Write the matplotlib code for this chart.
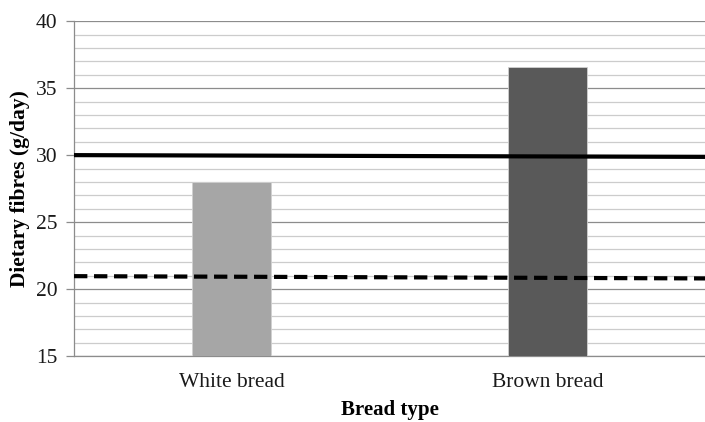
import matplotlib
matplotlib.use("Agg")
import matplotlib.pyplot as plt
from matplotlib.ticker import MultipleLocator

categories = ["White bread", "Brown bread"]
fibre_values = [28.0, 36.6]
bar_colors = ["#a6a6a6", "#595959"]
# reference lines: value at left edge, value at right edge
solid_line = [30.0, 29.87]
dashed_line = [20.97, 20.8]

plt.rcParams['font.family'] = ['Liberation Serif', 'DejaVu Serif']

fig = plt.figure(figsize=(7.05, 4.22), dpi=100)
ax = fig.add_axes([0.105, 0.156, 0.895, 0.794])

x = list(range(len(categories)))
ax.bar(x, fibre_values, width=0.25, color=bar_colors, edgecolor="#d0d0d0",
       linewidth=0.6, zorder=3)

xlim = (-0.5, len(categories) - 0.5)
ax.plot(xlim, solid_line, color="black", linewidth=3.0, solid_capstyle="butt", zorder=4)
ax.plot(xlim, dashed_line, color="black", linewidth=3.0, dashes=(3.2, 1.6), zorder=4)

ax.set_xlim(*xlim)
ax.set_ylim(15, 40)
ax.yaxis.set_major_locator(MultipleLocator(5))
ax.yaxis.set_minor_locator(MultipleLocator(1))
ax.grid(which="major", axis="y", color="#8c8c8c", linewidth=0.9, zorder=0)
ax.grid(which="minor", axis="y", color="#cccccc", linewidth=0.9, zorder=0)
ax.set_axisbelow(True)

ax.set_xticks(x)
ax.set_xticklabels(categories)
ax.tick_params(axis="x", length=0, pad=12, labelsize=15.5, labelcolor="#1a1a1a")
ax.tick_params(axis="y", which="major", length=6, width=0.9, color="#8c8c8c",
               labelsize=15.5, labelcolor="#1a1a1a", pad=6)
ax.tick_params(axis="y", which="minor", length=0)

for s in ["top", "right"]:
    ax.spines[s].set_visible(False)
for s in ["left", "bottom"]:
    ax.spines[s].set_color("#8c8c8c")
    ax.spines[s].set_linewidth(0.9)

ax.set_xlabel("Bread type", fontsize=15, fontweight="bold", labelpad=6)
ax.set_ylabel("Dietary fibres (g/day)", fontsize=15.5, fontweight="bold", labelpad=4)

fig.savefig("out.png", dpi=100)
